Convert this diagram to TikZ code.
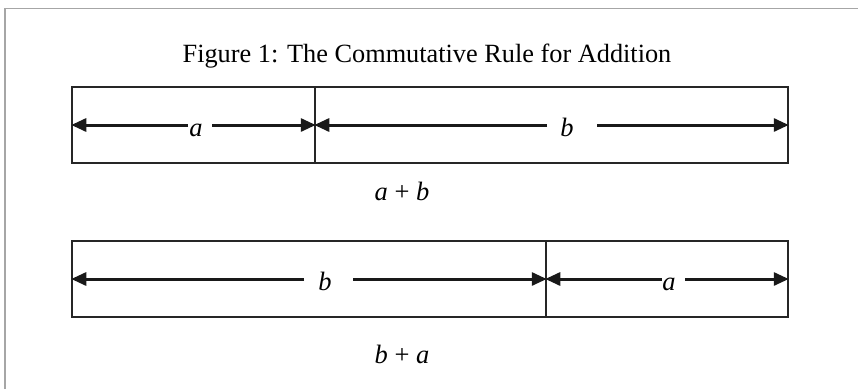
\documentclass[tikz,border=0pt]{standalone}
\usepackage{fontspec}
\setmainfont{Liberation Serif}
\usetikzlibrary{arrows.meta}
\begin{document}
\begin{tikzpicture}[x=1pt,y=-1pt,
    cell/.style={draw=black!85,line width=1.5pt,minimum height=76pt,inner sep=0pt},
    dim/.style={line width=3pt,draw=black!90,-{Triangle[length=15pt,width=13pt]}},
    lbl/.style={font=\fontsize{26.5}{31}\selectfont\itshape,anchor=base,inner sep=0pt}]
    \useasboundingbox (0,0) rectangle (858,389);

    % Frame
    \draw[gray!70,line width=1.5pt] (5,389) -- (5,8.5) -- (858,8.5);

    % Title
    \node[font=\fontsize{26.3}{31}\selectfont,anchor=base,inner sep=0pt] (title) at (427,62) {Figure 1: The Commutative Rule for Addition};

    % Top bar
    \node[cell,minimum width=243pt] (cellA1) at (193.5,125) {};
    \node[cell,minimum width=473pt] (cellB1) at (551.5,125) {};
    \node[lbl] (labA1) at (196,136) {a};
    \node[lbl] (labB1) at (567,136) {b};
    \coordinate (gapA1l) at (188,125);
    \coordinate (gapA1r) at (212,125);
    \coordinate (gapB1l) at (547,125);
    \coordinate (gapB1r) at (597,125);
    \draw[dim] (gapA1l) -- (cellA1.west);
    \draw[dim] (gapA1r) -- (cellA1.east);
    \draw[dim] (gapB1l) -- (cellB1.west);
    \draw[dim] (gapB1r) -- (cellB1.east);
    \node[font=\fontsize{26.5}{31}\selectfont,anchor=base,inner sep=0pt] (sumAB) at (402,200) {\textit{a} + \textit{b}};

    % Bottom bar
    \node[cell,minimum width=474pt] (cellB2) at (309,279) {};
    \node[cell,minimum width=242pt] (cellA2) at (667,279) {};
    \node[lbl] (labB2) at (325,290) {b};
    \node[lbl] (labA2) at (669,290) {a};
    \coordinate (gapB2l) at (304,279);
    \coordinate (gapB2r) at (353,279);
    \coordinate (gapA2l) at (662,279);
    \coordinate (gapA2r) at (685,279);
    \draw[dim] (gapB2l) -- (cellB2.west);
    \draw[dim] (gapB2r) -- (cellB2.east);
    \draw[dim] (gapA2l) -- (cellA2.west);
    \draw[dim] (gapA2r) -- (cellA2.east);
    \node[font=\fontsize{26.5}{31}\selectfont,anchor=base,inner sep=0pt] (sumBA) at (402,363) {\textit{b} + \textit{a}};
\end{tikzpicture}
\end{document}
